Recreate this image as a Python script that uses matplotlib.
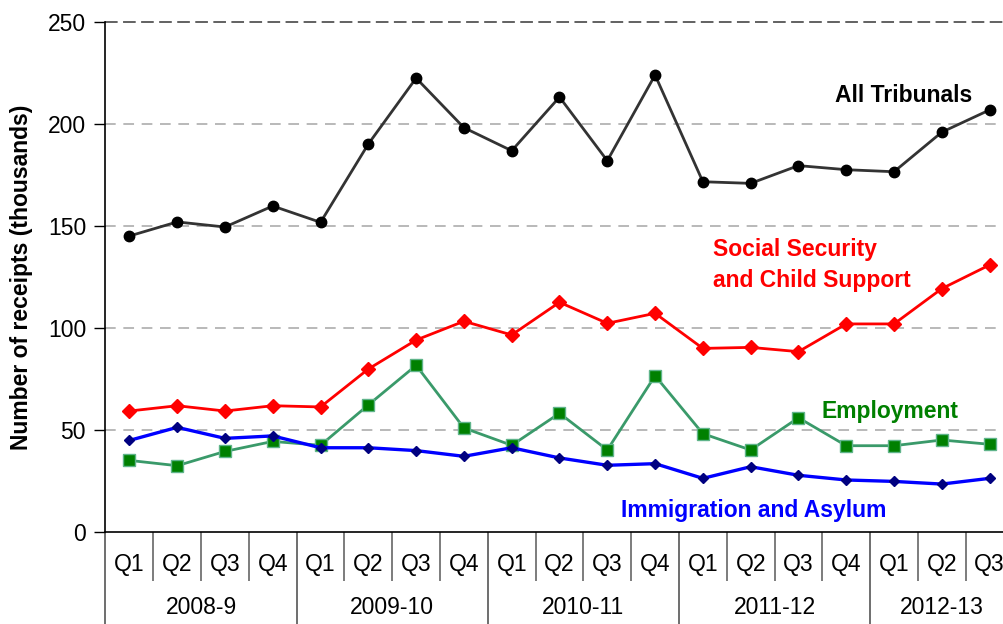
import matplotlib
matplotlib.use("Agg")
import matplotlib.pyplot as plt
import matplotlib.transforms as mtransforms
import numpy as np

plt.rcParams['font.family'] = ['Liberation Sans', 'DejaVu Sans']

years = ["2008-9", "2009-10", "2010-11", "2011-12", "2012-13"]
quarters = ["Q1", "Q2", "Q3", "Q4"] * 4 + ["Q1", "Q2", "Q3"]

all_tribunals = [145.1, 152.0, 149.5, 159.8, 151.8, 190.2, 222.5, 198.2, 186.9, 213.2,
                 182.0, 224.0, 171.7, 170.9, 179.6, 177.6, 176.6, 196.0, 206.9]
social_security = [59.3, 61.9, 59.3, 61.9, 61.3, 79.9, 94.1, 103.3, 96.6, 112.6,
                   102.3, 107.2, 90.0, 90.5, 88.4, 102.0, 102.0, 119.3, 130.9]
employment = [35.1, 32.5, 39.5, 44.4, 42.5, 62.3, 81.7, 51.0, 42.5, 58.2,
              40.2, 76.6, 48.2, 40.2, 56.0, 42.3, 42.3, 45.1, 43.0]
immigration = [44.9, 51.3, 45.9, 47.1, 41.3, 41.3, 39.9, 37.1, 41.3, 36.3,
               32.7, 33.5, 26.3, 32.0, 27.8, 25.5, 24.8, 23.5, 26.3]

fs = 16.5
x = np.arange(len(quarters))

fig = plt.figure(figsize=(10.04, 6.24), dpi=100)
# axes deliberately runs a bit past the right edge, as in the original crop
ax = fig.add_axes([105.5/1004, 92/624, 908/1004, 510/624])

for yv in [50, 100, 150, 200]:
    ax.axhline(yv, color='#a6a6a6', lw=1.1, ls=(0, (7, 5)), zorder=0)
ax.axhline(250, color='#555555', lw=1.3, ls=(0, (7, 3)), zorder=0, clip_on=False)

ax.plot(x, all_tribunals, color='#333333', lw=2.0, marker='o', ms=7.5,
        mfc='black', mec='black', zorder=3)
ax.plot(x, social_security, color='#ff0000', lw=2.0, marker='D', ms=7.5,
        mfc='#ff0000', mec='#ff0000', zorder=3)
ax.plot(x, employment, color='#3a9a6a', lw=2.0, marker='s', ms=8.5,
        mfc='#008000', mec='#5fb48a', mew=1.0, zorder=3)
ax.plot(x, immigration, color='#0000ff', lw=2.4, marker='D', ms=5,
        mfc='#000080', mec='#000080', zorder=3)

ax.set_ylim(0, 250)
ax.set_yticks(np.arange(0, 251, 50))
ax.tick_params(axis='y', labelsize=fs, length=8, width=1, direction='out', pad=6)
ax.set_ylabel("Number of receipts (thousands)", fontsize=fs, fontweight='bold', labelpad=11)

for s in ['top', 'right']:
    ax.spines[s].set_visible(False)
ax.spines['left'].set_linewidth(1.2)
ax.spines['bottom'].set_linewidth(1.2)

# category separators: years as major ticks, quarters as minor ticks
year_edges = np.arange(-0.5, len(quarters) + 4, 4)
ax.set_xticks(year_edges)
ax.set_xticks(np.arange(-0.5, len(quarters) + 0.5, 1), minor=True)
ax.set_xlim(-0.5, len(quarters) - 0.5)
ax.tick_params(axis='x', which='major', length=66, width=1.2, color='#555555', labelbottom=False)
ax.tick_params(axis='x', which='minor', length=35, width=1.2, color='#666666', labelbottom=False)

trans = mtransforms.blended_transform_factory(ax.transData, ax.transAxes)
for i, q in enumerate(quarters):
    ax.text(i, -33/510, q, transform=trans, ha='center', va='center', fontsize=fs)
for j, yr in enumerate(years):
    start = j * 4
    end = min(start + 4, len(quarters))
    ax.text((start + end - 1) / 2, -76/510, yr, transform=trans, ha='center', va='center', fontsize=fs)

ax.text(16.2, 214.2, "All Tribunals", color='black', fontsize=fs, fontweight='bold',
        ha='center', va='center')
ax.text(12.21, 131.1, "Social Security\nand Child Support", color='#ff0000', fontsize=fs,
        fontweight='bold', ha='left', va='center', linespacing=1.45)
ax.text(15.91, 59.3, "Employment", color='#008000', fontsize=fs, fontweight='bold',
        ha='center', va='center')
ax.text(13.07, 10.3, "Immigration and Asylum", color='#0000ff', fontsize=fs,
        fontweight='bold', ha='center', va='center')

fig.savefig("out.png", dpi=100)
